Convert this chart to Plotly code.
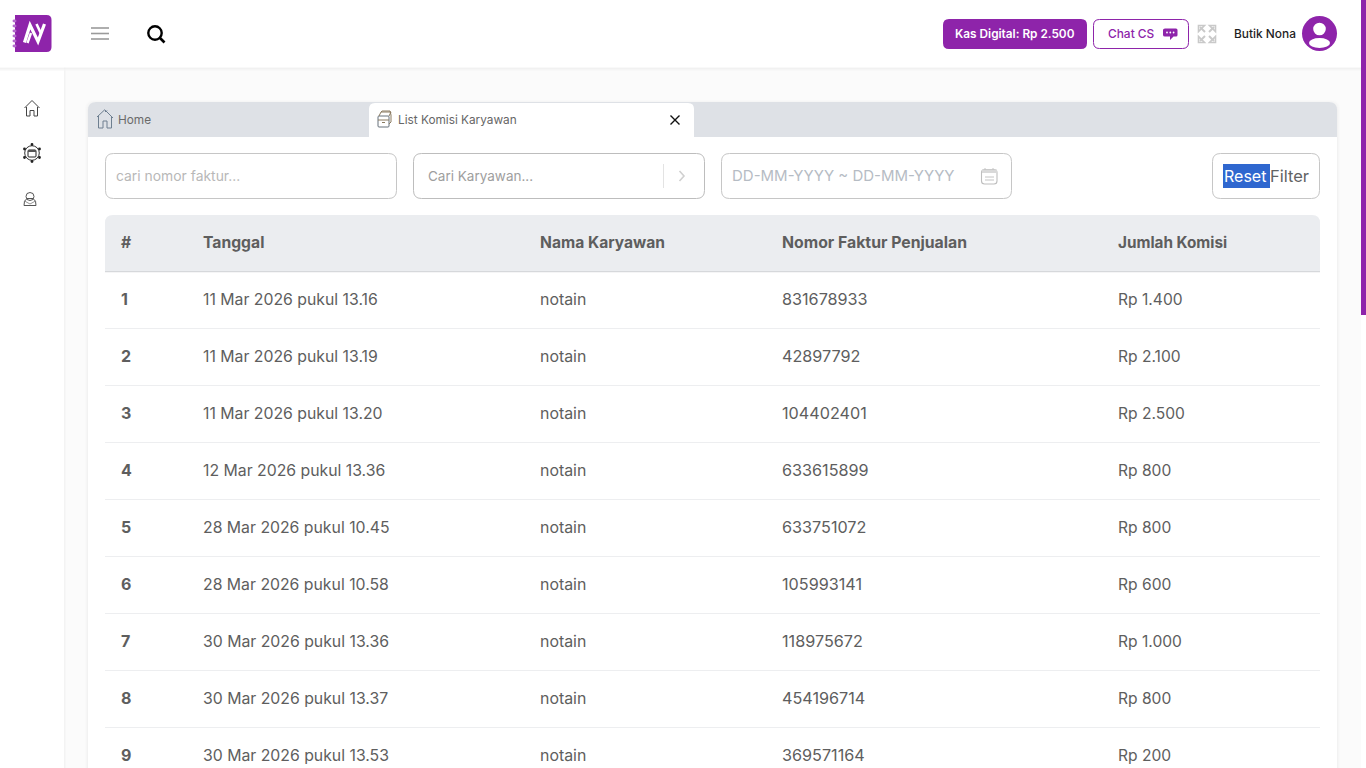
import plotly.graph_objects as go

# ---- data ----
row_numbers = ["1", "2", "3", "4", "5", "6", "7", "8", "9"]
tanggal = ["11 Mar 2026 pukul 13.16", "11 Mar 2026 pukul 13.19", "11 Mar 2026 pukul 13.20",
           "12 Mar 2026 pukul 13.36", "28 Mar 2026 pukul 10.45", "28 Mar 2026 pukul 10.58",
           "30 Mar 2026 pukul 13.36", "30 Mar 2026 pukul 13.37", "30 Mar 2026 pukul 13.53"]
karyawan = ["notain"] * 9
faktur = ["831678933", "42897792", "104402401", "633615899", "633751072",
          "105993141", "118975672", "454196714", "369571164"]
komisi = ["Rp 1.400", "Rp 2.100", "Rp 2.500", "Rp 800", "Rp 800",
          "Rp 600", "Rp 1.000", "Rp 800", "Rp 200"]
headers = ["#", "Tanggal", "Nama Karyawan", "Nomor Faktur Penjualan", "Jumlah Komisi"]

FONT = "Inter"
PURPLE = "#8E24AA"
TEXT = "#5E5E5E"
W, H = 1366, 768
shapes = []
annos = []


def rr(x0, y0, x1, y1, r=8, tl=True, tr=True, br=True, bl=True):
    a, b, c, d = (r if tl else 0), (r if tr else 0), (r if br else 0), (r if bl else 0)
    return (f"M{x0+a},{y0} L{x1-b},{y0} Q{x1},{y0} {x1},{y0+b} L{x1},{y1-c} Q{x1},{y1} {x1-c},{y1} "
            f"L{x0+d},{y1} Q{x0},{y1} {x0},{y1-d} L{x0},{y0+a} Q{x0},{y0} {x0+a},{y0} Z")


def path(d, fill=None, line=None, width=1):
    s = dict(type="path", path=d, xref="x", yref="y", layer="below",
             line=dict(color=line or "rgba(0,0,0,0)", width=width if line else 0))
    if fill:
        s["fillcolor"] = fill
    shapes.append(s)


def rect(x0, y0, x1, y1, fill=None, line=None, width=1):
    s = dict(type="rect", x0=x0, y0=y0, x1=x1, y1=y1, xref="x", yref="y", layer="below",
             line=dict(color=line or "rgba(0,0,0,0)", width=width if line else 0))
    if fill:
        s["fillcolor"] = fill
    shapes.append(s)


def circ(cx, cy, rx, ry=None, fill=None, line=None, width=1):
    ry = rx if ry is None else ry
    s = dict(type="circle", x0=cx-rx, y0=cy-ry, x1=cx+rx, y1=cy+ry, xref="x", yref="y", layer="below",
             line=dict(color=line or "rgba(0,0,0,0)", width=width if line else 0))
    if fill:
        s["fillcolor"] = fill
    shapes.append(s)


def label(x, y, text, size, color, weight=400, anchor="left"):
    annos.append(dict(x=x, y=y, xref="x", yref="y", text=text, showarrow=False, xanchor=anchor,
                      yanchor="middle", borderpad=0, borderwidth=0,
                      font=dict(family=FONT, size=size, color=color, weight=weight)))


# ---- page ----
rect(0, 0, W, H, fill="#FBFBFB")
# sidebar + header
rect(0, 0, 64, H, fill="#FFFFFF")
rect(64, 0, 65.5, H, fill="#F3F3F3")
for i, c in enumerate(["#E9E9E9", "#F0F0F0", "#F6F6F6"]):
    rect(0, 67.5+i, W, 68.5+i, fill=c)
rect(0, 0, W, 67.5, fill="#FFFFFF")
# scrollbar
rect(1361, 0, W, H, fill="#FFFFFF")
rect(1361, 0, W, 315, fill=PURPLE)

# logo
path(rr(15, 15, 51.5, 52, 5, tl=False, bl=False), fill=PURPLE)
rect(15, 15, 20, 52, fill=PURPLE)
for yy in (21, 26, 31, 36, 41, 46):
    circ(14.5, yy, 2, 1.4, fill="#B469CC")
path("M24.5,42.5 L30,25 L38,41.5 L44.5,24", line="#FFFFFF", width=3.2)
path("M36.5,24 L41,33.5", line="#FFFFFF", width=2.6)
path("M27.5,43 L31,33", line="#FFFFFF", width=2.4)

# hamburger, search
for yy in (28, 33.5, 39):
    rect(91, yy-0.8, 109, yy+0.8, fill="#9A9A9A")
circ(155, 33, 6.7, line="#000000", width=2.4)
path("M160,38 L164.5,42.5", line="#000000", width=2.6)

# kas digital / chat
path(rr(943, 19, 1087, 49, 6), fill=PURPLE)
label(1015, 34, "Kas Digital: Rp 2.500", 11.8, "#FFFFFF", 600, "center")
path(rr(1093.5, 19.5, 1188.5, 48.5, 6), fill="#FFFFFF", line=PURPLE)
label(1108, 33.5, "Chat CS", 11.9, PURPLE, 500)
path("M1165,28.5 L1176,28.5 Q1177.5,28.5 1177.5,30 L1177.5,35 Q1177.5,36.5 1176,36.5 L1173.5,36.5 L1170,40 L1170,36.5 "
     "L1165,36.5 Q1163,36.5 1163,35 L1163,30 Q1163,28.5 1165,28.5 Z", fill=PURPLE)
for xx in (1167, 1170.3, 1173.6):
    circ(xx, 32.5, 0.9, fill="#FFFFFF")

# expand icon
for d in ("M1198.5,25.5 L1204.5,25.5 L1198.5,31.5 Z", "M1215.5,25.5 L1209.5,25.5 L1215.5,31.5 Z",
          "M1198.5,42.5 L1204.5,42.5 L1198.5,36.5 Z", "M1215.5,42.5 L1209.5,42.5 L1215.5,36.5 Z"):
    path(d, line="#C9C9C9", width=1.6)
for d in ("M1200,27 L1205,32", "M1214,27 L1209,32", "M1200,41 L1205,36", "M1214,41 L1209,36"):
    path(d, line="#C9C9C9", width=2)

label(1234, 33.5, "Butik Nona", 11.9, "#1E1E1E", 500)
circ(1319.5, 33.5, 17.5, fill=PURPLE)
circ(1319.5, 29, 6.3, fill="#FFFFFF")
circ(1319.5, 43, 10.5, 5, fill="#FFFFFF")

# sidebar icons
path("M24.5,108 L32,100.5 L39.5,108 M26.5,107 L26.5,116 L30,116 L30,110.5 L34,110.5 L34,116 L37.5,116 L37.5,107",
     line="#444444", width=1)
circ(32, 153, 7.3, line="#333333", width=1)
for xx, yy in ((32, 144.5), (39.5, 149), (39.5, 157.5), (32, 161.5), (24.5, 157.5), (24.5, 149)):
    circ(xx, yy, 1.4, fill="#222222")
path(rr(28, 150, 36, 157, 1), line="#222222", width=1)
rect(28, 150, 36, 152, fill="#555555")
circ(30, 196.5, 4, line="#555555", width=1)
path("M24,205.5 Q23.5,200.5 27,198.5 L33,198.5 Q36.5,200.5 36,205.5 Z", line="#555555", width=1)
path("M24.5,201 L30,204 L35.5,201", line="#777777", width=0.8)

# ---- card ----
for i, c in enumerate(["#F9F9F9", "#F6F6F6", "#F2F2F2"]):
    path(rr(88-3+i, 102-2+i, 1337+3-i, 790, 9), fill=c)
path(rr(88, 102, 1337, 790, 8), fill="#FFFFFF")
path(rr(88, 102, 1337, 137, 8, br=False, bl=False), fill="#DEE1E6")

# tabs
path("M97,117 L105,109.5 M105.5,110 L105.5,112 M98.5,116 L98.5,128 L103,128 L103,121 L107,121 L107,128 L111.5,128 L111.5,116 "
     "M105,110 L113,118 M107,110.5 L107,111", line="#6E7F90", width=1)
label(118, 119.5, "Home", 11.8, "#6A6A6A", 400)
path(rr(369, 103, 694, 137, 6, br=False, bl=False), fill="#FFFFFF")
path(rr(378, 116, 389, 127, 1), line="#66707A", width=1)
path("M379,116 L381,112 L391,112 L389,116 M381,112 L382,111 L390,111 L391,115 L391,122 L389,124 M378,120 L389,120 M382,122.5 L385,122.5",
     line="#8A7A60", width=1)
label(398, 119.5, "List Komisi Karyawan", 11.8, "#666666", 400)
path("M670.5,115.5 L679.5,124.5 M679.5,115.5 L670.5,124.5", line="#111111", width=1.4)

# inputs
BORDER = "#C6C6C6"
path(rr(105.5, 153.5, 396.5, 198.5, 8), fill="#FFFFFF", line=BORDER)
label(116, 176, "cari nomor faktur...", 13.9, "#B8B8B8", 400)
path(rr(413.5, 153.5, 704.5, 198.5, 8), fill="#FFFFFF", line="#BDBDBD")
label(428, 176, "Cari Karyawan...", 13.5, "#9E9E9E", 400)
rect(663, 164, 664, 188, fill="#E3E3E3")
path("M679.5,171 L684,176 L679.5,181", line="#D0D0D0", width=1.6)
path(rr(721.5, 153.5, 1011.5, 198.5, 8), fill="#FFFFFF", line=BORDER)
label(732, 175.5, "DD-MM-YYYY ~ DD-MM-YYYY", 15, "#B6BCC4", 400)
path(rr(981.5, 169.5, 997, 184, 3), line="#BEBEBE", width=1.1)
rect(982, 169.5, 997, 173, fill="#D9D9D9")
path("M985,168 L985,170 M993,168 L993,170 M985,177 L994,177 M985,180 L994,180", line="#C4C4C4", width=1)

path(rr(1212.5, 153.5, 1319.5, 198.5, 8), fill="#FFFFFF", line=BORDER)
rect(1223, 164, 1270, 188, fill="#2F67CF")
label(1224, 175.5, "Reset", 16, "#FFFFFF", 400)
label(1270, 175.5, "Filter", 16.5, "#636363", 400)

# ---- table frame ----
path(rr(105, 215, 1320, 271, 8, br=False, bl=False), fill="#EBEDF0")
rect(105, 271, 1320, 272.2, fill="#D6D8DB")
ROW0, STEP = 301.5, 57
for i in range(len(row_numbers) - 1):
    yy = 328.5 + STEP * i
    rect(105, yy-0.5, 1320, yy+0.5, fill="#EDEEF0")

COLS = [121, 203, 540, 782, 1118]
rows_y = [ROW0 + STEP * i for i in range(len(row_numbers))]

fig = go.Figure()
for x0, vals, wt, sz, dy in zip(COLS, [row_numbers, tanggal, karyawan, faktur, komisi],
                                [700, 400, 400, 400, 400],
                                [16, 15.8, 15.9, 16.2, 15.6],
                                [-1, 0, 0, -1, 0]):
    fig.add_trace(go.Scatter(x=[x0] * len(vals), y=[v + dy for v in rows_y], text=vals, mode="text",
                             textposition="middle right", hoverinfo="skip", showlegend=False, cliponaxis=False,
                             textfont=dict(family=FONT, size=sz, color=TEXT, weight=wt)))
fig.add_trace(go.Scatter(x=COLS, y=[244] * len(COLS), text=headers, mode="text",
                         textposition="middle right", hoverinfo="skip", showlegend=False, cliponaxis=False,
                         textfont=dict(family=FONT, size=[15.7, 15.7, 15.6, 15.8, 15.3], color=TEXT, weight=700)))

fig.update_layout(width=W, height=H, autosize=False, margin=dict(l=0, r=0, t=0, b=0),
                  paper_bgcolor="#FBFBFB", plot_bgcolor="rgba(0,0,0,0)", shapes=shapes, annotations=annos,
                  xaxis=dict(range=[0, W], visible=False, fixedrange=True),
                  yaxis=dict(range=[H, 0], visible=False, fixedrange=True),
                  font=dict(family=FONT))
fig.write_html("out.html", config=dict(displayModeBar=False),
               post_script="document.body.style.margin='0';document.documentElement.style.overflow='hidden';")
